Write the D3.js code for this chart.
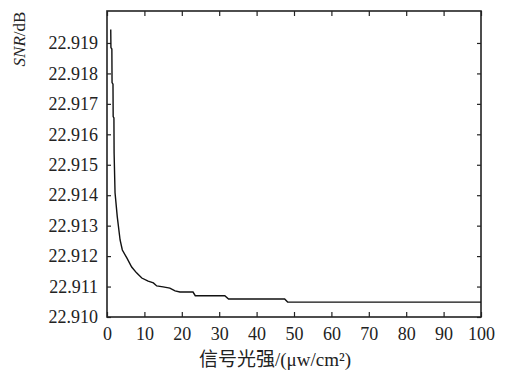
<!DOCTYPE html>
<html>
<head>
<meta charset="utf-8">
<script src="https://cdn.jsdelivr.net/npm/d3@7"></script>
<style>
  body { margin: 0; background: #fff; }
</style>
</head>
<body>
<div id="chart"></div>
<script>
// curve
const lightX = [1.0, 1.05, 1.3, 1.35, 1.6, 1.65, 1.85, 1.9, 2.15, 2.75, 3.5, 4.1, 5.3, 6.6, 7.9, 9.3,
    11.0, 12.4, 13.3, 15.0, 16.8, 18.2, 19.5, 23.0, 23.6, 31.5, 32.5, 47.5, 48.3, 100];
const snrY = [22.91944, 22.91885, 22.91880, 22.91770, 22.91765, 22.91658, 22.91654, 22.91539, 22.91408,
    22.91329, 22.91253, 22.91220, 22.91194, 22.91164, 22.91145, 22.91128, 22.91118, 22.91112, 22.91102,
    22.91099, 22.91095, 22.91086, 22.91082, 22.91082, 22.91070, 22.91070, 22.91059, 22.91059, 22.91049,
    22.91049];
const xTicks = [0, 10, 20, 30, 40, 50, 60, 70, 80, 90, 100];
const yTicks = [22.910, 22.911, 22.912, 22.913, 22.914, 22.915, 22.916, 22.917, 22.918, 22.919];

const serif = "Liberation Serif";
const W = 515, H = 372;
const margin = { top: 11, right: 34, bottom: 55, left: 107 },
    width = W - margin.left - margin.right,
    height = H - margin.top - margin.bottom;

const svg = d3.select("#chart")
    .append("svg")
    .attr("width", W)
    .attr("height", H);

const g = svg.append("g")
    .attr("transform", `translate(${margin.left}, ${margin.top})`);

const x = d3.scaleLinear().domain([0, 100]).range([0, width]);
const y = d3.scaleLinear().domain([22.910, 22.92005]).range([height, 0]);

// bottom axis with inward ticks
const xAxis = g.append("g")
    .attr("transform", `translate(0, ${height})`)
    .call(d3.axisBottom(x).tickValues(xTicks).tickFormat(d3.format("d"))
        .tickSizeInner(-5).tickSizeOuter(0).tickPadding(14));
// top mirror ticks
const xTop = g.append("g")
    .call(d3.axisTop(x).tickValues(xTicks).tickFormat("")
        .tickSizeInner(-5).tickSizeOuter(0));

const yAxis = g.append("g")
    .call(d3.axisLeft(y).tickValues(yTicks).tickFormat(d3.format(".3f"))
        .tickSizeInner(-4).tickSizeOuter(0).tickPadding(9));
const yRight = g.append("g")
    .attr("transform", `translate(${width}, 0)`)
    .call(d3.axisRight(y).tickValues(yTicks).tickFormat("")
        .tickSizeInner(-4).tickSizeOuter(0));

[xAxis, xTop, yAxis, yRight].forEach(a => {
    a.attr("font-family", serif);
    a.select(".domain").remove();
    a.selectAll("line").attr("stroke", "#222").attr("stroke-width", 1.2);
    a.selectAll("text")
        .style("font-family", serif)
        .style("font-size", "18px")
        .attr("fill", "#222");
});
xAxis.selectAll("text").attr("dy", "0.71em").attr("y", 10);

// frame
g.append("rect")
    .attr("x", 0).attr("y", 0)
    .attr("width", width).attr("height", height)
    .attr("fill", "none")
    .attr("stroke", "#222")
    .attr("stroke-width", 1.6);

// the curve
const pts = lightX.map((d, i) => [d, snrY[i]]);
g.append("path")
    .datum(pts)
    .attr("fill", "none")
    .attr("stroke", "#111")
    .attr("stroke-width", 1.4)
    .attr("d", d3.line().x(d => x(d[0])).y(d => y(d[1])));

// axis titles
const yl = svg.append("text")
    .attr("transform", "translate(25, 39) rotate(-90)")
    .attr("text-anchor", "middle")
    .style("font-family", serif)
    .style("font-size", "17px")
    .attr("fill", "#222");
yl.append("tspan").attr("font-style", "italic").text("SNR");
yl.append("tspan").text("/dB");

const xl = svg.append("text")
    .attr("x", 275).attr("y", 366)
    .attr("text-anchor", "middle")
    .style("font-size", "19px")
    .attr("fill", "#222");
xl.append("tspan").style("font-family", "Noto Sans CJK SC").text("信号光强");
xl.append("tspan").style("font-family", serif).text("/(μw/cm²)");
</script>
</body>
</html>
